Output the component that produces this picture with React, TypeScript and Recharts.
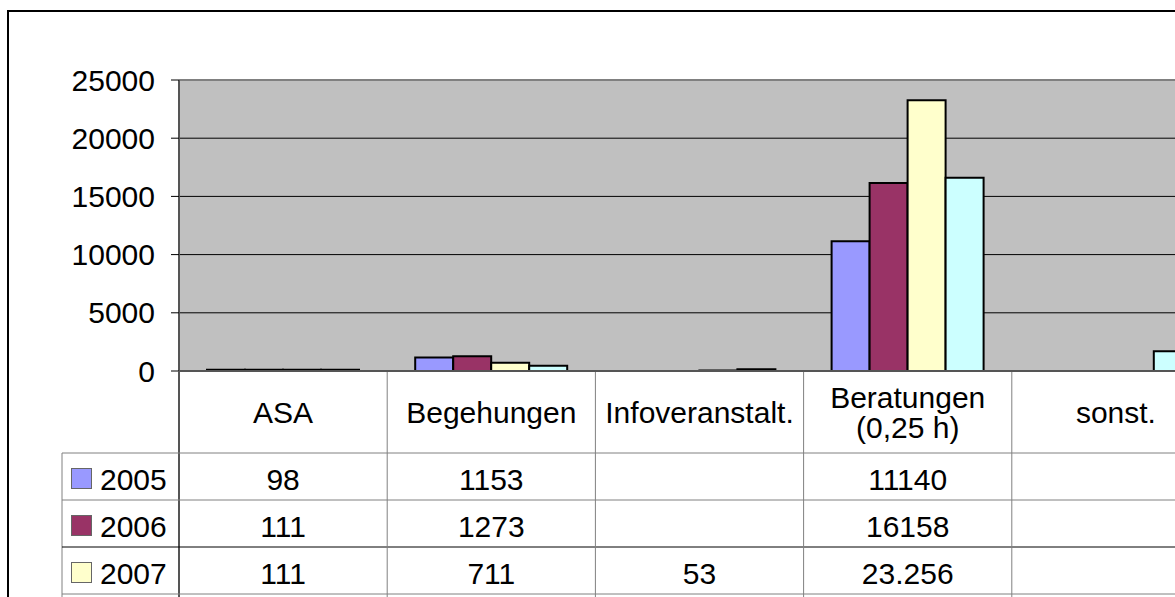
import { BarChart, Bar, XAxis, YAxis, CartesianGrid, ReferenceLine } from 'recharts'

const categories = ['ASA', 'Begehungen', 'Infoveranstalt.', 'Beratungen\n(0,25 h)', 'sonst.']
const years = ['2005', '2006', '2007', '2008']
const values2005 = [98, 1153, null, 11140, null]
const values2006 = [111, 1273, null, 16158, null]
const values2007 = [111, 711, 53, 23256, null]
const values2008 = [105, 450, 150, 16600, 1700]
// the sheet shows this one cell with a thousands separator
const cellOverrides: Record<string, string> = { '2007-3': '23.256' }
const yTicks = [0, 5000, 10000, 15000, 20000, 25000]
// only the first three table rows fit in the picture
const tableRows = 3

const COLORS = ['#9999FF', '#993366', '#FFFFCC', '#CCFFFF']
const FONT = '"Liberation Sans", Arial, sans-serif'

const seriesValues = [values2005, values2006, values2007, values2008]
const data = categories.map((name, i) => {
  const row: Record<string, string | number | null> = { name }
  years.forEach((yr, s) => (row['y' + yr] = seriesValues[s][i]))
  return row
})

// layout
const W = 1260
const H = 700
const PLOT_LEFT = 179
const PLOT_RIGHT = 1220
const Y_AXIS_W = 79
const X_AXIS_H = 230
const PLOT_BOTTOM = 371
const HEAD_H = 81
const ROW_H = 47
const LEGEND_W = 117

function TableTick(props: any) {
  const { x, y, payload, index } = props
  const n = categories.length
  const band = (PLOT_RIGHT - PLOT_LEFT) / n
  const left = x - band / 2
  const right = x + band / 2
  const top = y + 1
  const headBottom = top + HEAD_H
  const bottom = headBottom + ROW_H * years.length
  const lines = String(payload.value).split('\n')
  const lineGap = 30
  const firstBase = top + 51 - ((lines.length - 1) * lineGap) / 2

  return (
    <g fontFamily={FONT} fontSize={30} fill="#000">
      {index === 0 && (
        <g>
          <line x1={left} x2={left} y1={top - 1} y2={bottom} stroke="#555" strokeWidth={2} />
          <line x1={left - LEGEND_W} x2={left - LEGEND_W} y1={headBottom} y2={bottom} stroke="#808080" />
          {years.slice(0, tableRows).map((yr, s) => {
            const ry = headBottom + ROW_H * s
            return (
              <g key={yr}>
                <line
                  x1={left - LEGEND_W}
                  x2={PLOT_RIGHT}
                  y1={ry}
                  y2={ry}
                  stroke={s === 2 ? '#000' : '#808080'}
                />
                <rect x={left - LEGEND_W + 9.5} y={ry + 15.5} width={20} height={20} fill={COLORS[s]} stroke="#666" />
                <text x={left - LEGEND_W + 38} y={ry + 37}>
                  {yr}
                </text>
              </g>
            )
          })}
          <line
            x1={left - LEGEND_W}
            x2={PLOT_RIGHT}
            y1={headBottom + ROW_H * tableRows}
            y2={headBottom + ROW_H * tableRows}
            stroke="#808080"
          />
        </g>
      )}
      <line x1={right} x2={right} y1={top} y2={bottom} stroke="#808080" />
      {lines.map((l, k) => (
        <text key={k} x={x} y={firstBase + k * lineGap} textAnchor="middle">
          {l}
        </text>
      ))}
      {years.slice(0, tableRows).map((yr, s) => {
        const v = seriesValues[s][index]
        const txt = cellOverrides[`${yr}-${index}`] ?? (v == null ? '' : String(v))
        return (
          <text key={yr} x={x} y={headBottom + ROW_H * s + 37} textAnchor="middle">
            {txt}
          </text>
        )
      })}
    </g>
  )
}

export default function App() {
  return (
    <div style={{ position: 'absolute', left: 0, top: 0, width: 1175, height: 597, overflow: 'hidden', background: '#fff' }}>
      <div
        style={{
          position: 'absolute',
          left: 7,
          top: 10,
          width: 1400,
          height: 800,
          border: '2px solid #000',
        }}
      />
      <div style={{ position: 'absolute', left: 0, top: 0 }}>
        <BarChart
          width={W}
          height={H}
          data={data}
          margin={{ top: 80, right: W - PLOT_RIGHT, left: PLOT_LEFT - Y_AXIS_W, bottom: H - PLOT_BOTTOM - X_AXIS_H }}
          barCategoryGap={28}
          barGap={0}
        >
          <CartesianGrid vertical={false} stroke="#000" fill="#C0C0C0" />
          <ReferenceLine y={25000} stroke="#808080" strokeWidth={2} />
          <XAxis
            dataKey="name"
            height={X_AXIS_H}
            interval={0}
            tickSize={0}
            tickMargin={0}
            tickLine={false}
            axisLine={{ stroke: '#555', strokeWidth: 2 }}
            tick={<TableTick />}
          />
          <YAxis
            width={Y_AXIS_W}
            domain={[0, 25000]}
            ticks={yTicks}
            tickSize={8}
            tickMargin={16}
            axisLine={{ stroke: '#555', strokeWidth: 2 }}
            tickLine={{ stroke: '#000' }}
            tick={{ fill: '#000', fontSize: 30, fontFamily: FONT }}
          />
          {years.map((yr, s) => (
            <Bar
              key={yr}
              dataKey={'y' + yr}
              name={yr}
              fill={COLORS[s]}
              stroke="#000"
              strokeWidth={2}
              isAnimationActive={false}
            />
          ))}
        </BarChart>
      </div>
    </div>
  )
}
